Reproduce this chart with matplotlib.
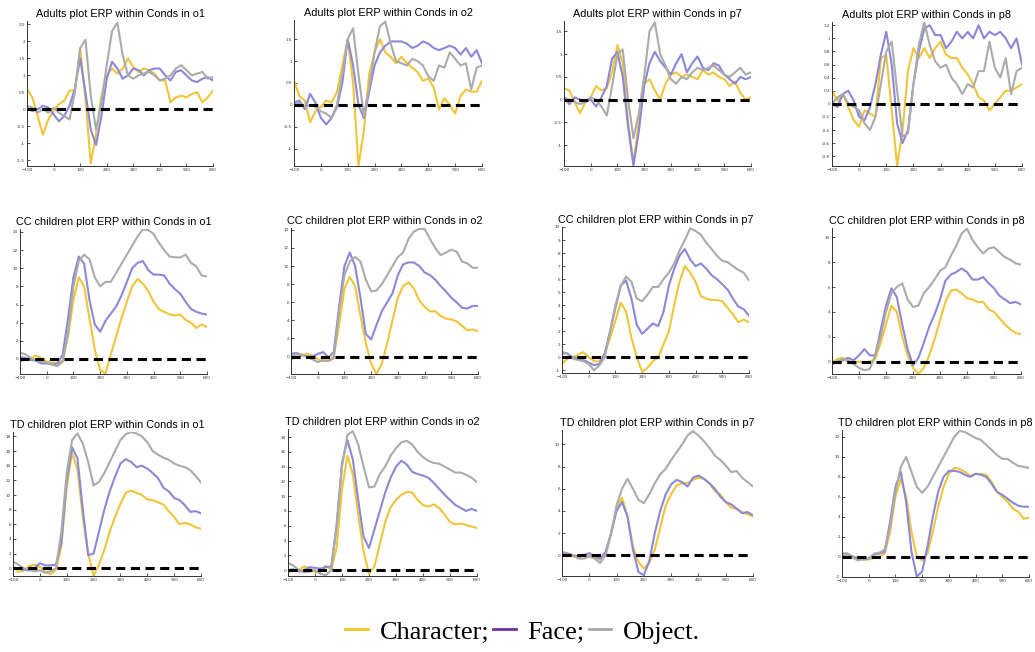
import matplotlib.pyplot as plt
from matplotlib.lines import Line2D
from matplotlib.ticker import MultipleLocator, FormatStrFormatter

# time axis (ms), sampled every 20 ms
time_ms = [-100, -80, -60, -40, -20, 0, 20, 40, 60, 80, 100, 120, 140, 160, 180,
           200, 220, 240, 260, 280, 300, 320, 340, 360, 380, 400, 420, 440, 460,
           480, 500, 520, 540, 560, 580, 600]

# ---- Adults ----
adults_o1_char = [0.6, 0.35, -0.2, -0.75, -0.3, -0.05, 0.15, 0.25, 0.55, 0.55, 1.8, 0.3, -1.6, -0.7, 0.4, 1.0, 1.2, 1.05,
                  1.2, 1.5, 1.25, 1.1, 1.2, 1.15, 1.05, 0.85, 0.85, 0.2, 0.35, 0.4, 0.35, 0.45, 0.5, 0.2, 0.35, 0.55]
adults_o1_face = [0.05, -0.05, 0.0, 0.1, 0.05, -0.15, -0.35, -0.2, 0.1, 0.6, 1.5, 0.5, -0.6, -1.05, -0.2, 0.9, 1.4, 1.2,
                  0.9, 1.0, 1.2, 1.15, 1.0, 1.15, 1.2, 1.2, 1.0, 0.85, 1.1, 1.15, 1.0, 0.85, 0.8, 0.9, 0.95, 0.85]
adults_o1_obj = [0.1, 0.05, -0.1, 0.0, -0.1, 0.05, -0.1, -0.2, -0.3, 0.5, 1.8, 2.05, 0.4, -0.6, 0.2, 1.3, 2.3, 2.55,
                 1.6, 1.0, 0.9, 1.0, 1.05, 1.1, 1.0, 0.85, 0.9, 1.0, 1.2, 1.3, 1.15, 1.0, 1.05, 1.1, 0.9, 0.95]

adults_o2_char = [0.55, 0.2, 0.1, -0.4, -0.15, -0.05, 0.1, 0.05, 0.3, 0.9, 1.5, 0.5, -1.4, -0.6, 0.7, 1.2, 1.5, 1.2,
                  1.1, 0.95, 1.1, 0.95, 0.85, 0.75, 0.55, 0.6, 0.4, -0.1, 0.15, 0.0, -0.2, 0.2, 0.35, 0.3, 0.3, 0.55]
adults_o2_face = [0.05, 0.1, -0.1, 0.25, 0.05, -0.3, -0.45, -0.3, -0.05, 0.5, 1.5, 0.9, 0.0, -0.3, 0.3, 0.9, 1.2, 1.35,
                  1.45, 1.45, 1.45, 1.4, 1.3, 1.35, 1.45, 1.4, 1.3, 1.25, 1.3, 1.35, 1.3, 1.15, 1.3, 1.1, 1.25, 0.95]
adults_o2_obj = [0.0, 0.05, -0.05, 0.0, -0.05, -0.15, -0.2, -0.3, 0.0, 0.7, 1.5, 1.75, 0.7, -0.25, 0.4, 1.2, 1.8, 1.9,
                 1.4, 1.0, 0.95, 0.9, 1.05, 1.0, 0.9, 0.65, 0.55, 0.9, 0.85, 1.2, 1.05, 0.9, 0.95, 0.35, 0.85, 0.9]

adults_p7_char = [0.25, 0.2, -0.05, -0.3, -0.05, 0.05, 0.3, 0.2, 0.25, 0.6, 1.2, 0.8, -0.5, -1.4, -0.5, 0.35, 0.45, 0.2,
                  0.0, 0.35, 0.55, 0.6, 0.5, 0.55, 0.5, 0.45, 0.65, 0.55, 0.6, 0.5, 0.45, 0.3, 0.4, 0.15, 0.0, 0.05]
adults_p7_face = [0.05, -0.1, 0.05, 0.0, -0.05, 0.0, -0.15, 0.05, 0.3, 0.9, 1.05, 0.5, -0.6, -1.45, -0.7, 0.3, 0.8, 1.05,
                  0.85, 0.7, 0.55, 0.8, 1.0, 0.6, 0.8, 0.95, 0.7, 0.65, 0.8, 0.75, 0.55, 0.45, 0.35, 0.5, 0.45, 0.5]
adults_p7_obj = [0.05, 0.0, -0.05, -0.1, -0.05, 0.05, 0.0, -0.15, -0.35, 0.3, 1.0, 1.1, 0.0, -0.85, -0.3, 0.5, 1.5, 1.7,
                 1.0, 0.75, 0.45, 0.35, 0.5, 0.45, 0.6, 0.7, 0.65, 0.7, 0.75, 0.65, 0.55, 0.5, 0.6, 0.7, 0.55, 0.6]

adults_p8_char = [0.2, 0.05, 0.15, -0.05, -0.25, -0.35, -0.1, -0.15, -0.2, 0.7, 0.75, -0.1, -0.95, -0.4, 0.5, 0.85, 0.7, 0.85,
                  0.7, 0.85, 0.95, 0.75, 0.7, 0.7, 0.55, 0.45, 0.3, 0.1, 0.05, -0.1, 0.0, 0.1, 0.2, 0.2, 0.25, 0.3]
adults_p8_face = [0.0, -0.05, 0.15, 0.2, 0.05, -0.2, -0.25, -0.05, 0.3, 0.75, 1.1, 0.6, -0.3, -0.6, -0.4, 0.3, 0.8, 1.15,
                  1.2, 1.05, 1.05, 0.85, 0.95, 1.1, 1.0, 1.1, 1.0, 1.2, 1.0, 1.1, 1.05, 1.1, 1.0, 0.85, 1.0, 0.6]
adults_p8_obj = [0.0, 0.1, 0.15, 0.0, -0.05, -0.1, -0.3, -0.4, -0.2, 0.3, 0.8, 0.95, 0.2, -0.5, -0.45, 0.3, 0.9, 1.25,
                 0.9, 0.65, 0.55, 0.6, 0.4, 0.3, 0.15, 0.3, 0.25, 0.5, 0.5, 0.95, 0.55, 0.4, 0.7, 0.15, 0.5, 0.55]

# ---- CC children ----
cc_o1_char = [-0.3, 0.0, 0.1, 0.35, 0.1, -0.3, -0.4, -0.5, -0.2, 2.5, 6.5, 9.0, 8.0, 4.5, 1.0, -1.2, -1.6, 0.5,
              2.5, 4.5, 6.3, 8.0, 8.8, 8.3, 7.5, 6.3, 5.5, 5.2, 4.9, 4.8, 4.9, 4.3, 4.0, 3.4, 3.8, 3.5]
cc_o1_face = [0.2, 0.1, -0.1, -0.2, -0.5, -0.5, -0.6, -0.5, 0.5, 4.5, 9.0, 11.3, 10.5, 6.5, 3.8, 3.0, 4.2, 5.0,
              5.8, 7.0, 8.5, 10.0, 10.6, 10.8, 9.8, 9.3, 9.3, 9.2, 8.3, 7.7, 7.2, 6.3, 5.5, 5.2, 5.0, 4.9]
cc_o1_obj = [0.7, 0.5, 0.1, -0.2, -0.3, -0.4, -0.6, -0.8, -0.3, 3.0, 8.0, 10.8, 11.5, 11.0, 9.0, 8.0, 8.5, 8.5,
             9.5, 10.5, 11.5, 12.5, 13.5, 14.3, 14.2, 13.8, 12.8, 12.0, 11.3, 11.2, 11.2, 11.5, 10.6, 10.2, 9.2, 9.1]

cc_o2_char = [-0.4, 0.0, 0.1, 0.3, 0.1, -0.3, -0.5, -0.4, 0.0, 3.5, 7.5, 8.8, 7.8, 4.5, 1.5, -0.8, -1.9, -0.8,
              1.5, 4.0, 6.5, 7.8, 8.2, 7.5, 6.2, 5.5, 5.0, 5.0, 4.5, 4.2, 4.1, 3.9, 3.4, 2.9, 3.0, 2.8]
cc_o2_face = [0.3, 0.4, 0.2, 0.0, 0.0, 0.3, 0.5, -0.1, 0.5, 5.5, 10.0, 11.5, 10.0, 6.5, 2.5, 1.9, 3.5, 5.0,
              6.0, 7.0, 9.0, 10.2, 10.4, 10.4, 10.0, 9.3, 9.0, 8.5, 7.8, 7.2, 6.5, 6.0, 5.4, 5.3, 5.6, 5.6]
cc_o2_obj = [0.0, 0.3, 0.2, 0.0, -0.3, -0.6, -0.4, -0.5, -0.2, 5.0, 9.0, 10.5, 11.0, 10.5, 8.5, 7.2, 7.3, 8.0,
             9.0, 10.0, 11.0, 11.5, 13.0, 13.8, 14.1, 14.1, 13.0, 12.0, 11.2, 11.5, 11.8, 11.6, 10.5, 10.3, 9.8, 9.8]

cc_p7_char = [-0.5, -0.1, 0.0, 0.2, 0.4, 0.0, -0.3, -0.3, 0.3, 1.5, 2.8, 4.2, 3.5, 1.5, 0.0, -1.1, -0.8, -0.3,
              0.0, 1.0, 2.0, 4.0, 5.8, 7.0, 6.5, 5.8, 4.7, 4.5, 4.4, 4.4, 4.3, 3.8, 3.3, 2.7, 2.9, 2.7]
cc_p7_face = [0.3, 0.3, 0.0, -0.1, -0.2, -0.4, -0.6, -0.5, 0.3, 2.0, 3.8, 5.5, 5.9, 4.5, 2.5, 1.8, 2.2, 2.6,
              2.4, 3.5, 5.5, 6.8, 7.8, 8.3, 7.5, 7.0, 7.2, 6.8, 6.3, 6.0, 5.6, 5.2, 4.5, 3.9, 3.7, 3.2]
cc_p7_obj = [0.4, 0.3, -0.1, -0.2, -0.3, -0.5, -1.0, -0.6, 0.0, 2.0, 4.0, 5.5, 6.2, 5.8, 4.5, 4.3, 4.8, 5.4,
             5.4, 6.0, 6.5, 7.2, 8.2, 9.0, 9.9, 9.7, 9.4, 8.8, 8.3, 7.8, 7.4, 7.3, 7.0, 6.7, 6.5, 5.9]

cc_p8_char = [-0.1, 0.2, 0.3, 0.0, -0.1, 0.0, -0.1, 0.0, 0.2, 1.5, 3.0, 4.5, 4.0, 2.0, 0.5, -0.5, -1.0, -0.5,
              0.5, 1.8, 3.3, 4.8, 5.7, 5.8, 5.5, 5.1, 5.0, 4.8, 4.8, 4.2, 4.0, 3.5, 3.0, 2.6, 2.3, 2.2]
cc_p8_face = [-0.2, 0.0, 0.1, 0.3, 0.1, 0.5, 1.0, 0.5, 0.5, 2.5, 4.5, 5.9, 5.2, 3.0, 1.0, -0.3, 0.3, 1.5,
              2.8, 3.8, 5.0, 6.5, 7.0, 7.2, 7.5, 7.2, 6.6, 6.6, 6.8, 6.3, 5.9, 5.3, 5.0, 4.7, 4.8, 4.6]
cc_p8_obj = [-0.2, 0.0, 0.2, 0.1, -0.2, -0.5, -0.7, -0.6, 0.5, 2.0, 4.0, 5.5, 6.0, 6.3, 5.0, 4.4, 4.5, 5.5,
             6.0, 6.6, 7.3, 7.6, 8.5, 9.3, 10.3, 10.7, 9.8, 9.2, 8.7, 9.1, 9.2, 8.8, 8.4, 8.2, 7.9, 7.8]

# ---- TD children ----
td_o1_char = [0.3, -0.5, -0.3, 0.3, 0.5, 0.2, -0.5, -0.8, -0.2, 3.0, 11.0, 15.8, 13.5, 7.0, 2.0, -1.0, 0.5, 2.5,
              5.0, 7.0, 8.8, 10.3, 10.6, 10.3, 10.0, 9.4, 9.3, 9.0, 8.7, 7.8, 7.0, 6.0, 6.2, 6.0, 5.6, 5.4]
td_o1_face = [0.0, 0.0, -0.2, -0.3, 0.0, 0.7, 0.4, 0.4, 0.5, 3.5, 12.0, 16.5, 15.0, 8.0, 1.8, 2.0, 5.0, 8.0,
              10.5, 12.5, 14.3, 14.9, 14.5, 13.8, 14.0, 13.6, 13.0, 12.3, 11.0, 10.5, 9.6, 9.3, 8.6, 7.7, 7.8, 7.5]
td_o1_obj = [0.9, 0.5, 0.0, -0.2, -0.4, -0.3, -0.6, -0.4, 0.0, 5.0, 13.0, 17.5, 18.4, 17.0, 14.5, 11.3, 11.8, 13.0,
             14.5, 16.0, 17.5, 18.3, 18.6, 18.4, 18.0, 17.2, 16.0, 15.5, 15.1, 14.8, 14.3, 14.0, 13.8, 13.4, 12.6, 11.7]

td_o2_char = [-0.3, 0.0, 0.0, 0.5, 0.2, -0.3, -0.2, 0.6, 0.0, 3.0, 11.0, 15.5, 13.0, 7.5, 2.5, -0.5, 0.5, 3.5,
              6.5, 8.5, 9.5, 10.2, 10.6, 10.5, 9.5, 8.8, 8.6, 8.9, 8.4, 7.5, 6.5, 6.2, 6.3, 6.1, 5.9, 5.7]
td_o2_face = [0.0, 0.1, -0.2, 0.0, 0.4, 0.3, 0.2, 0.4, 0.5, 6.0, 14.5, 17.6, 15.0, 9.5, 4.5, 3.0, 5.5, 8.0,
              10.5, 12.5, 14.0, 14.8, 14.3, 13.3, 13.0, 12.8, 12.5, 11.8, 11.0, 10.2, 9.5, 8.8, 8.4, 8.0, 8.3, 8.0]
td_o2_obj = [1.0, 0.6, 0.0, -0.3, -0.2, 0.0, -0.5, -0.7, 0.0, 6.0, 14.0, 18.3, 18.8, 17.0, 14.0, 11.2, 11.3, 13.0,
             14.0, 15.5, 16.5, 17.3, 17.5, 17.0, 16.0, 15.3, 14.8, 14.5, 14.4, 14.0, 13.6, 13.2, 13.2, 12.9, 12.5, 11.9]

td_p7_char = [0.0, 0.0, -0.1, -0.2, 0.0, 0.0, -0.2, -0.4, 0.3, 2.0, 4.2, 5.2, 3.5, 0.8, -0.6, -1.2, -0.7, 0.5,
              2.5, 4.5, 5.5, 6.3, 6.5, 6.5, 6.8, 7.0, 6.9, 6.5, 5.8, 5.5, 4.8, 4.3, 4.2, 3.9, 3.7, 3.5]
td_p7_face = [0.2, 0.1, 0.0, -0.1, 0.0, 0.2, -0.1, -0.3, 0.3, 2.0, 4.0, 4.8, 3.5, 0.5, -1.5, -1.8, -0.5, 2.0,
              4.0, 5.5, 6.4, 6.8, 6.6, 6.2, 7.0, 7.2, 6.9, 6.5, 6.0, 5.3, 4.8, 4.6, 4.2, 3.8, 3.9, 3.6]
td_p7_obj = [0.3, 0.2, 0.0, -0.3, -0.3, -0.1, -0.3, -0.7, 0.0, 2.0, 4.5, 6.0, 6.9, 6.0, 5.0, 4.7, 5.5, 6.5,
             7.3, 7.8, 8.6, 9.3, 10.0, 10.8, 11.2, 10.8, 10.3, 9.7, 9.0, 8.6, 8.1, 7.5, 7.6, 7.0, 6.6, 6.2]

td_p8_char = [-0.2, 0.2, 0.0, -0.1, -0.3, -0.3, -0.1, 0.0, 0.3, 2.5, 6.0, 7.8, 6.0, 2.5, 0.0, -0.4, 0.3, 2.5,
              5.0, 7.0, 8.3, 8.9, 8.8, 8.5, 8.1, 8.3, 8.3, 8.2, 7.5, 6.5, 6.0, 5.5, 4.8, 4.5, 3.8, 3.9]
td_p8_face = [0.3, 0.3, 0.0, -0.2, -0.3, -0.2, 0.2, 0.3, 0.5, 3.5, 7.0, 8.5, 5.5, 0.5, -2.0, -1.5, 1.0, 4.0,
              6.5, 8.0, 8.6, 8.6, 8.5, 8.2, 8.0, 8.3, 8.2, 8.0, 7.3, 6.5, 6.2, 5.8, 5.4, 5.1, 5.0, 5.0]
td_p8_obj = [0.0, 0.3, -0.1, -0.4, -0.2, -0.2, 0.3, 0.4, 0.7, 3.0, 6.5, 9.0, 10.0, 8.5, 7.0, 6.4, 7.0, 8.0,
             9.0, 10.0, 11.0, 12.0, 12.6, 12.5, 12.2, 11.9, 11.7, 11.2, 10.7, 10.2, 9.8, 9.8, 9.4, 9.1, 9.0, 8.9]

groups = ["Adults", "CC children", "TD children"]
channels = ["o1", "o2", "p7", "p8"]
panels = [
    (adults_o1_char, adults_o1_face, adults_o1_obj), (adults_o2_char, adults_o2_face, adults_o2_obj),
    (adults_p7_char, adults_p7_face, adults_p7_obj), (adults_p8_char, adults_p8_face, adults_p8_obj),
    (cc_o1_char, cc_o1_face, cc_o1_obj), (cc_o2_char, cc_o2_face, cc_o2_obj),
    (cc_p7_char, cc_p7_face, cc_p7_obj), (cc_p8_char, cc_p8_face, cc_p8_obj),
    (td_o1_char, td_o1_face, td_o1_obj), (td_o2_char, td_o2_face, td_o2_obj),
    (td_p7_char, td_p7_face, td_p7_obj), (td_p8_char, td_p8_face, td_p8_obj),
]
ylims = [(-1.67, 2.6), (-1.4, 1.94), (-1.46, 1.73), (-0.95, 1.25),
         (-1.66, 14.33), (-1.92, 14.2), (-1.2, 10.0), (-1.0, 10.75),
         (-1.05, 18.6), (-0.8, 19.1), (-1.87, 11.3), (-2.05, 12.7)]
ystep = [0.5, 0.5, 0.5, 0.2, 2, 2, 1, 2, 2, 2, 2, 2]

# axes boxes in pixels: left, top, right, bottom
boxes = [(27, 21, 213, 166), (294, 20, 482, 166), (564, 21, 751, 166), (832, 22, 1022, 166),
         (20, 229, 207, 374), (291, 228, 478, 374), (562, 227, 749, 373), (832, 228, 1021, 374),
         (13, 432, 201, 576), (288, 429, 477, 576), (562, 430, 753, 576), (842, 430, 1029, 577)]

W, H = 1035, 652
c_char = "#F0C53A"
c_face = "#8C88D8"
c_obj = "#ABABAB"

fig = plt.figure(figsize=(W / 100, H / 100), dpi=100)

for i, (char, face, obj) in enumerate(panels):
    l, t, r, b = boxes[i]
    ax = fig.add_axes([l / W, 1 - b / H, (r - l) / W, (b - t) / H])
    ax.plot(time_ms, char, color=c_char, lw=1.5)
    ax.plot(time_ms, face, color=c_face, lw=1.5)
    ax.plot(time_ms, obj, color=c_obj, lw=1.5)
    ax.plot([-100, 600], [0, 0], color="black", lw=2.2, ls=(0, (3, 1.8)), zorder=5)
    ax.set_xlim(-100, 600)
    ax.set_ylim(*ylims[i])
    ax.xaxis.set_major_locator(MultipleLocator(100))
    ax.yaxis.set_major_locator(MultipleLocator(ystep[i]))
    ax.yaxis.set_major_formatter(FormatStrFormatter("%g"))
    ax.tick_params(direction="in", length=2, width=0.6, labelsize=3, colors="#333333", pad=1.5)
    for s in ["top", "right"]:
        ax.spines[s].set_visible(False)
    for s in ["left", "bottom"]:
        ax.spines[s].set_linewidth(0.7)
        ax.spines[s].set_color("#333333")
    title = f"{groups[i // 4]} plot ERP within Conds in {channels[i % 4]}"
    ax.set_title(title, fontsize=7.8, family="Liberation Sans", pad=3)

handles = [Line2D([], [], color="#F5C518", lw=2),
           Line2D([], [], color="#7030A0", lw=2),
           Line2D([], [], color="#A6A6A6", lw=2)]
fig.legend(handles, ["Character;", "Face;", "Object."], loc="center",
           bbox_to_anchor=(0.505, 0.031), ncol=3, frameon=False,
           prop={"family": "Liberation Serif", "size": 19},
           handlelength=0.85, handletextpad=0.45, columnspacing=0.15)

fig.savefig("out.png", dpi=100)
